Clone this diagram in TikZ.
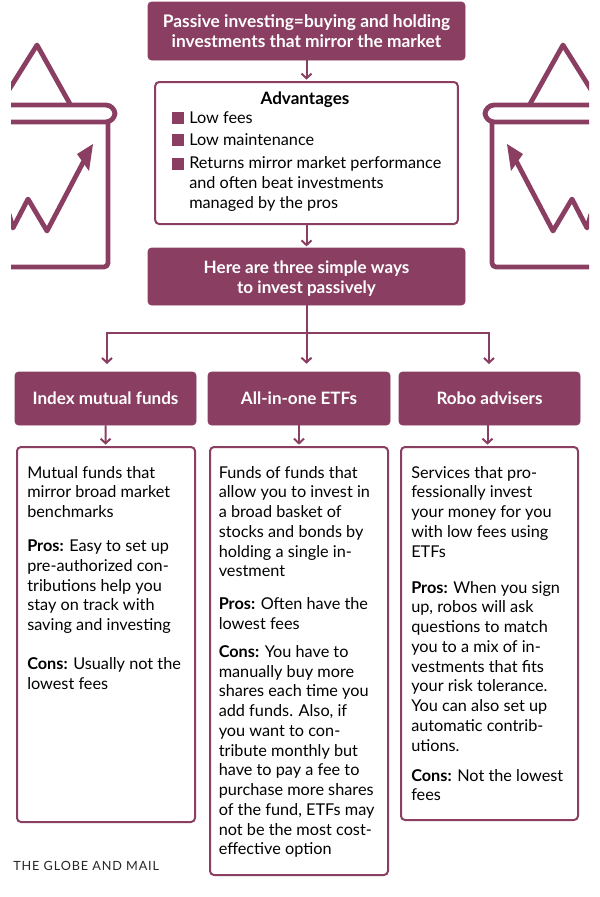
\documentclass[tikz,border=0pt]{standalone}
\usepackage{fontspec}
\setmainfont{Lato}
\usepackage{tikz}
\usetikzlibrary{positioning, arrows.meta}
\definecolor{wine}{HTML}{8A3F62}
\tikzset{
    headbox/.style={fill=wine, draw=wine, rounded corners=2.5pt, text=white, font=\fontsize{12.8}{15}\selectfont\bfseries, align=center, inner sep=0pt},
    bodybox/.style={draw=wine, line width=1.5pt, rounded corners=3pt, fill=white, inner sep=0pt},
    bodytext/.style={anchor=north west, align=left, inner sep=0pt, font=\fontsize{12.2}{14.8}\selectfont},
    conn/.style={draw=wine, line width=1.5pt, -{Straight Barb[length=3.5pt,width=7.5pt]}},
    iconline/.style={draw=wine, line width=3.6pt, line join=round},
    bullet/.style={fill=wine, inner sep=0pt, minimum size=9pt}
}
\begin{document}
\begin{tikzpicture}[x=0.75pt, y=-0.75pt]
    \useasboundingbox (0,0) rectangle (600,897);

    % Draw the two baskets
    \foreach \flip/\move in {1/0,-1/600}{
        \begin{scope}[shift={(\move,0)}, xscale=\flip]
            \clip (11,0) rectangle (125,300);
            \draw[iconline] (0,104) -- (37,45) -- (70,104);
            \draw[iconline, rounded corners=7pt] (0,105) -- (115,105) -- (115,122) -- (0,122);
            \draw[iconline, rounded corners=3pt] (108,122) -- (108,267) -- (0,267);
            \draw[iconline] (9,214) -- (13,228) -- (28,199) -- (47,231) -- (87,155);
            \fill[wine] (93,144) -- (77,154) -- (89,171) -- cycle;
        \end{scope}
    }

    % Top boxes
    \node[headbox, font=\fontsize{13}{15}\selectfont\bfseries, minimum width=237.75pt, minimum height=43.5pt] (titlebox) at (306.5,31) {Passive investing=buying and holding\\investments that mirror the market};
    \node[bodybox, minimum width=227pt, minimum height=106.5pt] (advbox) at (306.5,153) {};
    \node[headbox, minimum width=237.75pt, minimum height=42.75pt] (waysbox) at (306.5,276.5) {\rule{0pt}{12.5pt}Here are three simple ways\\to invest passively};

    % Advantages list
    \node[font=\fontsize{12.8}{15}\selectfont\bfseries, inner sep=0pt] (advtitle) at (305,99.5) {Advantages};
    \foreach \y/\tag/\words in {118/fees/Low fees,140/upkeep/Low maintenance}{
        \node[bullet] (b\tag) at (178,\y) {};
        \node[bodytext, anchor=west] (t\tag) at (189,\y) {\words};
    }
    \node[bullet] (breturns) at (178,164) {};
    \node[bodytext] (treturns) at (189,156.5) {Returns mirror market performance\\and often beat investments\\managed by the pros};

    % Column headers
    \node[headbox, minimum width=135.75pt, minimum height=39.75pt] (indexhead) at (105.5,398.5) {Index mutual funds};
    \node[headbox, minimum width=136.5pt, minimum height=39.75pt] (etfhead) at (299,398.5) {All-in-one ETFs};
    \node[headbox, minimum width=135.75pt, minimum height=39.75pt] (robohead) at (489.5,398.5) {Robo advisers};

    % Column bodies
    \node[bodybox, minimum width=133.5pt, minimum height=281.25pt] (indexbody) at (106,634.5) {};
    \node[bodybox, minimum width=133.5pt, minimum height=321pt] (etfbody) at (299,661) {};
    \node[bodybox, minimum width=132.75pt, minimum height=279.75pt] (robobody) at (489.5,633.5) {};

    \node[bodytext] (indextext) at (27,466) {Mutual funds that\\mirror broad market\\benchmarks\\[10.7pt]\textbf{Pros:} Easy to set up\\pre-authorized con-\\tributions help you\\stay on track with\\saving and investing\\[14.5pt]\textbf{Cons:} Usually not the\\lowest fees};
    \node[bodytext] (etftext) at (218.5,466) {Funds of funds that\\allow you to invest in\\a broad basket of\\stocks and bonds by\\holding a single in-\\vestment\\[9.5pt]\textbf{Pros:} Often have the\\lowest fees\\[6.5pt]\textbf{Cons:} You have to\\manually buy more\\shares each time you\\add funds. Also, if\\you want to con-\\tribute monthly but\\have to pay a fee to\\purchase more shares\\of the fund, ETFs may\\not be the most cost-\\effective option};
    \node[bodytext] (robotext) at (411,466) {Services that pro-\\fessionally invest\\your money for you\\with low fees using\\ETFs\\[12.2pt]\textbf{Pros:} When you sign\\up, robos will ask\\questions to match\\you to a mix of in-\\vestments that fits\\your risk tolerance.\\You can also set up\\automatic contrib-\\utions.\\[7.7pt]\textbf{Cons:} Not the lowest\\fees};

    % Connectors
    \coordinate (branchtop) at (306.5,333);
    \coordinate (branchleft) at (107,372);
    \coordinate (branchright) at (489,372);
    \draw[conn, shorten >=1pt] (titlebox) -- (advbox);
    \draw[conn, shorten >=1pt] (advbox) -- (waysbox);
    \draw[conn, shorten >=6pt] (waysbox) -- (waysbox |- etfhead.north);
    \draw[conn, shorten >=6pt] (branchtop) -| (branchleft);
    \draw[conn, shorten >=6pt] (branchtop) -| (branchright);
    \draw[conn, shorten >=1pt] (indexhead) -- (indexbody);
    \draw[conn, shorten >=1pt] (etfhead) -- (etfbody);
    \draw[conn, shorten >=1pt, transform canvas={xshift=-1.5pt}] (robohead) -- (robobody);

    % Credit
    \node[anchor=west, inner sep=0pt, text=black!85, font=\fontsize{9.5}{11}\selectfont\addfontfeatures{LetterSpace=7}] (credit) at (13,866) {THE GLOBE AND MAIL};
\end{tikzpicture}
\end{document}
